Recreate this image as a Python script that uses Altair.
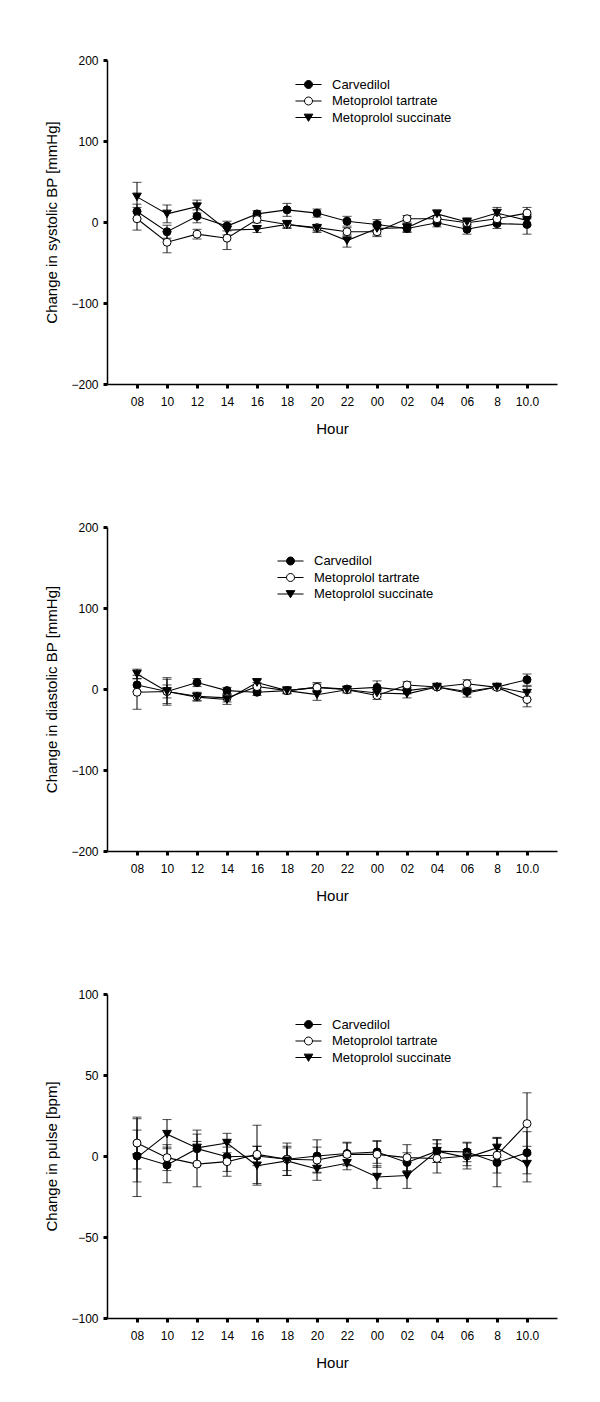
import json
import altair as alt
import pandas as pd

# ---------------- data ----------------
hours = ["08", "10", "12", "14", "16", "18", "20", "22", "00", "02", "04", "06", "8", "10.0"]
series_names = ["Carvedilol", "Metoprolol tartrate", "Metoprolol succinate"]

# systolic BP change (mmHg) and error
sys_carv = [13, -12, 7, -5, 10, 15, 11, 1, -3, -8, -1, -9, -2, -3]
sys_carv_err = [9, 8, 8, 6, 4, 8, 5, 6, 6, 5, 5, 6, 6, 12]
sys_tart = [4, -25, -15, -20, 3, -3, -7, -12, -12, 4, 4, -1, 4, 11]
sys_tart_err = [14, 13, 6, 14, 4, 4, 4, 5, 6, 4, 4, 4, 5, 7]
sys_succ = [31, 10, 19, -10, -9, -3, -8, -23, -8, -7, 10, 0, 11, 2]
sys_succ_err = [18, 11, 8, 6, 4, 5, 5, 8, 8, 5, 5, 5, 7, 6]

# diastolic BP change (mmHg) and error
dia_carv = [5, -3, 8, -2, -4, -2, 2, 0, 2, -2, 2.5, -3, 2.5, 11.5]
dia_carv_err = [8, 17, 5, 4, 4, 3, 6, 3, 8, 4, 3, 3, 3, 7]
dia_tart = [-4, -3, -9, -11, 3, -2, 2, -1, -8, 5, 2.5, 6.5, 2, -13]
dia_tart_err = [21, 15, 5, 5, 5, 4, 4, 3, 5, 4, 2, 5, 3, 9]
dia_succ = [18.5, -3, -10, -13, 8, -2, -7, -1, -5, -6, 2.5, -5, 2.5, -5]
dia_succ_err = [6, 8, 5, 6, 5, 3, 7, 4, 5, 5, 2, 5, 3, 8]

# pulse change (bpm) and error
pul_carv = [0, -5.5, 4.5, -0.5, 0, -2, 0, 1.5, 2.5, -4, 3, 2.5, -4, 2]
pul_carv_err = [16, 11, 9, 9, 6, 7, 10, 7, 7, 6, 7, 6, 15, 13]
pul_tart = [8, -1, -5, -3.5, 1, -2, -2.5, 1, 1, -1, -1.5, 0, 0.5, 20]
pul_tart_err = [16, 8, 14, 9, 18, 10, 8, 7, 8, 8, 9, 8, 11, 19]
pul_succ = [-1, 13.5, 5, 8, -6, -3, -8, -4.5, -13, -12, 3, -1, 5, -5]
pul_succ_err = [24, 9, 11, 6, 12, 9, 7, 4, 7, 8, 7, 5, 6, 11]

FONT = "Liberation Sans"
W, H = 450, 324

# legend symbols: line + marker (symbol box of 14 px, scale 7 px per unit)
LEG_PATHS = [
    "M-1.86,0H1.86M0.57,0A0.57,0.57,0,1,1,-0.57,0A0.57,0.57,0,1,1,0.57,0Z",
    "M-1.86,0H-0.57M0.57,0H1.86M0.57,0A0.57,0.57,0,1,1,-0.57,0A0.57,0.57,0,1,1,0.57,0Z",
    "M-1.86,0H1.86M-0.62,-0.48L0.62,-0.48L0,0.55Z",
]
LEG_FILLS = ["black", "white", "black"]
label_expr = json.dumps(hours) + "[datum.value - 1]"


def make_df(vals, errs):
    rows = []
    for name, v, e in zip(series_names, vals, errs):
        for i, (yv, ev) in enumerate(zip(v, e)):
            rows.append({"series": name, "pos": i + 1, "hour": hours[i],
                         "val": yv, "lo": yv - ev, "hi": yv + ev})
    return pd.DataFrame(rows)


def panel(vals, errs, ydom, yvals, ytitle, leg_x, leg_y):
    df = make_df(vals, errs)
    base = alt.Chart(df)
    x = alt.X("pos:Q", scale=alt.Scale(domain=[0, 15], nice=False, zero=False),
              axis=alt.Axis(values=list(range(1, len(hours) + 1)), labelExpr=label_expr,
                            title="Hour"))
    yscale = alt.Scale(domain=ydom, nice=False)
    yaxis = alt.Axis(values=yvals, title=ytitle, format="d")

    rules = base.mark_rule(color="black", strokeWidth=1).encode(
        x=x, y=alt.Y("lo:Q", scale=yscale, axis=yaxis), y2="hi:Q")
    cap_lo = base.mark_tick(orient="horizontal", color="black", thickness=1, size=9).encode(
        x=x, y=alt.Y("lo:Q", scale=yscale, axis=yaxis))
    cap_hi = base.mark_tick(orient="horizontal", color="black", thickness=1, size=9).encode(
        x=x, y=alt.Y("hi:Q", scale=yscale, axis=yaxis))
    lines = base.mark_line(color="black", strokeWidth=1.1).encode(
        x=x, y=alt.Y("val:Q", scale=yscale, axis=yaxis), detail="series:N")

    pts = []
    styles = [("circle", "black", 64), ("circle", "white", 64), ("triangle-down", "black", 75)]
    for name, (shp, fill, sz) in zip(series_names, styles):
        pts.append(
            base.transform_filter(alt.datum.series == name)
            .mark_point(shape=shp, fill=fill, stroke="black", strokeWidth=1,
                        filled=False, size=sz, opacity=1, fillOpacity=1)
            .encode(x=x, y=alt.Y("val:Q", scale=yscale, axis=yaxis))
        )

    legend = alt.Legend(
        orient="none", legendX=leg_x, legendY=leg_y, title=None,
        symbolSize=196, labelFontSize=13, labelFont=FONT, labelColor="black",
        rowPadding=1.5, labelOffset=16, padding=0,
        symbolStrokeColor="black", symbolStrokeWidth=1, symbolOpacity=1,
    )
    leg_layer = (
        base.transform_filter("false")
        .mark_point(strokeWidth=1, opacity=1)
        .encode(
            shape=alt.Shape("series:N", scale=alt.Scale(domain=series_names, range=LEG_PATHS),
                            legend=legend),
            fill=alt.Fill("series:N", scale=alt.Scale(domain=series_names, range=LEG_FILLS),
                          legend=legend),
            stroke=alt.Stroke("series:N",
                              scale=alt.Scale(domain=series_names, range=["black"] * 3),
                              legend=legend),
        )
    )
    return alt.layer(rules, cap_lo, cap_hi, lines, *pts, leg_layer).properties(width=W, height=H)


p1 = panel([sys_carv, sys_tart, sys_succ], [sys_carv_err, sys_tart_err, sys_succ_err],
           [-200, 200], [-200, -100, 0, 100, 200], "Change in systolic BP [mmHg]", 194, 17)
p2 = panel([dia_carv, dia_tart, dia_succ], [dia_carv_err, dia_tart_err, dia_succ_err],
           [-200, 200], [-200, -100, 0, 100, 200], "Change in diastolic BP [mmHg]", 176, 26.5)
p3 = panel([pul_carv, pul_tart, pul_succ], [pul_carv_err, pul_tart_err, pul_succ_err],
           [-100, 100], [-100, -50, 0, 50, 100], "Change in pulse [bpm]", 194, 23)

chart = (
    alt.vconcat(p1, p2, p3, spacing=85)
    .resolve_scale(x="independent", y="independent", shape="independent",
                   fill="independent", stroke="independent")
    .resolve_legend(shape="independent", fill="independent", stroke="independent")
    .properties(padding={"left": 36, "top": 46, "right": 5, "bottom": 5})
    .configure(font=FONT)
    .configure_view(stroke=None)
    .configure_axis(
        grid=False, domainColor="black", domainWidth=1.5, tickColor="black",
        tickWidth=3, tickSize=4, labelFontSize=12, labelColor="black", labelFont=FONT,
        titleFontSize=15, titleFontWeight="normal", titleColor="black", titleFont=FONT,
        labelPadding=5,
    )
    .configure_axisX(labelPadding=8, titlePadding=14)
    .configure_axisY(titlePadding=11)
)

chart.save("out.html", embed_options={"renderer": "svg", "actions": False})
